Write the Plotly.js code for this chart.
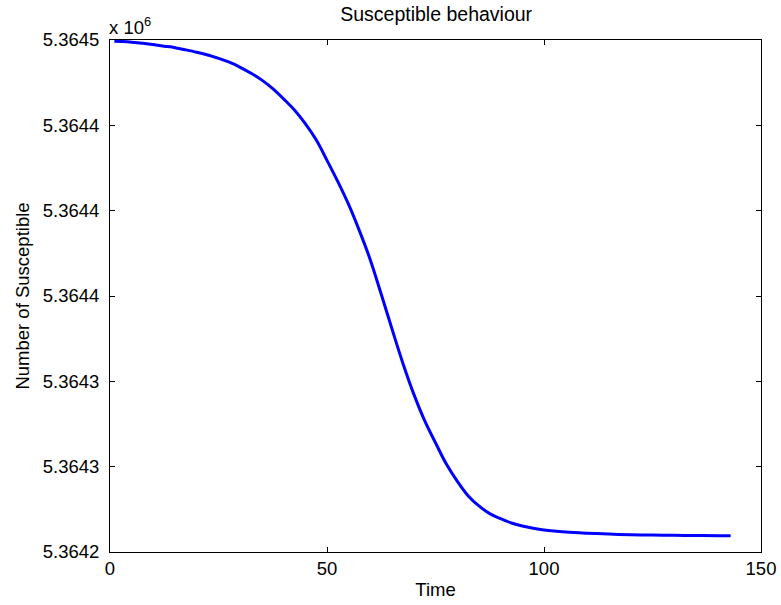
<!DOCTYPE html>
<html>
<head>
<meta charset="utf-8">
<script src="https://cdn.plot.ly/plotly-3.0.1.min.js"></script>
<style>html,body{margin:0;padding:0;background:#fff;}#chart{width:781px;height:605px;}</style>
</head>
<body>
<div id="chart"></div>
<script>
const time = [1, 2.5, 5, 7.5, 10, 12.5, 15, 17.5, 20, 22.5, 25, 27.5, 30, 32.5, 35, 37.5, 40, 42.5, 45, 47.5, 50, 52.5, 55, 57.5, 60, 62.5, 65, 67.5, 70, 72.5, 75, 77.5, 80, 82.5, 85, 87.5, 90, 92.5, 95, 97.5, 100, 105, 110, 115, 120, 125, 130, 135, 140, 143];
const susceptible = [5364499.3, 5364499.1, 5364498.7, 5364498.1, 5364497.3, 5364496.4, 5364495.5, 5364494.2, 5364492.8, 5364491.2, 5364489.2, 5364487.0, 5364484.0, 5364480.5, 5364476.5, 5364471.5, 5364465.5, 5364459.0, 5364451.0, 5364441.5, 5364429.5, 5364417.0, 5364403.5, 5364388.0, 5364371.0, 5364351.0, 5364330.5, 5364310.5, 5364292.5, 5364277.0, 5364264.0, 5364251.5, 5364241.5, 5364233.0, 5364227.0, 5364222.5, 5364219.5, 5364217.0, 5364215.2, 5364213.9, 5364212.9, 5364211.7, 5364211.0, 5364210.5, 5364210.1, 5364209.9, 5364209.75, 5364209.65, 5364209.55, 5364209.5];
const yTickVals = [5364200, 5364250, 5364300, 5364350, 5364400, 5364450, 5364500];
const yTickText = ['5.3642', '5.3643', '5.3643', '5.3644', '5.3644', '5.3644', '5.3645'];
const xTickVals = [0, 50, 100, 150];

const font = '"Liberation Sans", Arial, Helvetica, sans-serif';
Plotly.newPlot('chart', [{
  x: time, y: susceptible, type: 'scatter', mode: 'lines',
  line: {color: '#0000ff', width: 3, shape: 'spline', smoothing: 1},
  hoverinfo: 'skip'
}], {
  width: 781, height: 605,
  margin: {l: 110, r: 20, t: 40, b: 53, pad: 0},
  paper_bgcolor: '#fff', plot_bgcolor: '#fff',
  showlegend: false,
  font: {family: font, color: '#000', size: 18.5},
  title: {text: 'Susceptible behaviour', x: 0.5585, xanchor: 'center', y: 0.976, yanchor: 'middle', font: {family: font, size: 19.5, color: '#000'}},
  xaxis: {
    range: [0, 150], tickvals: xTickVals, ticks: 'inside', ticklen: 5, tickcolor: '#000', tickwidth: 1,
    showline: true, linecolor: '#000', linewidth: 1, mirror: 'ticks', showgrid: false, zeroline: false,
    tickfont: {family: font, size: 18.5, color: '#000'},
    title: {text: 'Time', font: {family: font, size: 18.5, color: '#000'}, standoff: 4}
  },
  yaxis: {
    range: [5364200, 5364500], tickvals: yTickVals, ticktext: yTickText, ticks: 'inside', ticklen: 5, tickcolor: '#000', tickwidth: 1,
    showline: true, linecolor: '#000', linewidth: 1, mirror: 'ticks', showgrid: false, zeroline: false,
    ticklabelstandoff: 6,
    tickfont: {family: font, size: 18.5, color: '#000'},
    title: {text: 'Number of Susceptible', font: {family: font, size: 18.5, color: '#000'}, standoff: 8}
  },
  annotations: [{
    text: 'x 10<sup>6</sup>', xref: 'paper', yref: 'paper', x: 0, y: 1, xanchor: 'left', yanchor: 'bottom',
    showarrow: false, font: {family: font, size: 18.5, color: '#000'}, yshift: 0, xshift: -3
  }]
}, {displayModeBar: false, staticPlot: true});
</script>
</body>
</html>
